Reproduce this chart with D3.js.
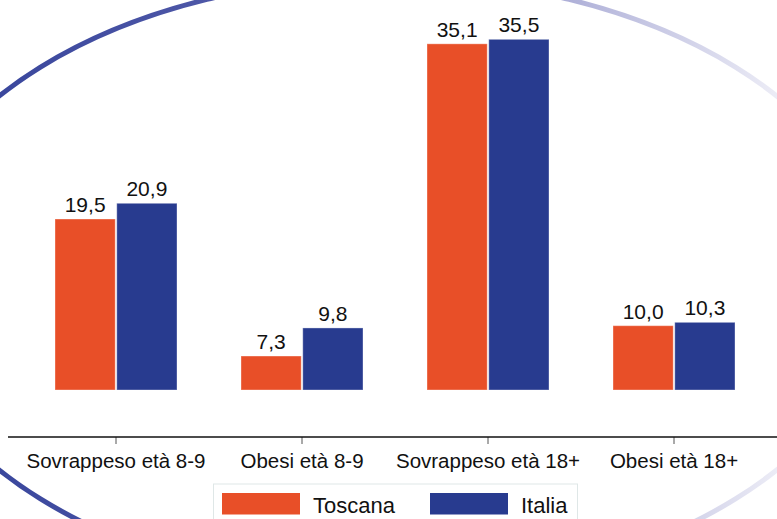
<!DOCTYPE html>
<html>
<head>
<meta charset="utf-8">
<script src="https://cdn.jsdelivr.net/npm/d3@7"></script>
<style>
  html, body { margin: 0; padding: 0; background: #fff; }
  svg { display: block; font-family: "Liberation Sans", Arial, sans-serif; }
</style>
</head>
<body>
<svg id="chart" width="777" height="519"></svg>
<script>
const categories = ["Sovrappeso età 8-9", "Obesi età 8-9", "Sovrappeso età 18+", "Obesi età 18+"];
const seriesNames = ["Toscana", "Italia"];
const toscana = [19.5, 7.3, 35.1, 10.0];
const italia = [20.9, 9.8, 35.5, 10.3];
const colors = ["#E84F28", "#283B8F"];

const W = 777, H = 519;
const svg = d3.select("#chart");
const defs = svg.append("defs");

// decorative ellipse with horizontal fade
const grad = defs.append("linearGradient").attr("id", "arcGrad")
  .attr("gradientUnits", "userSpaceOnUse").attr("x1", 0).attr("x2", W).attr("y1", 0).attr("y2", 0);
grad.append("stop").attr("offset", "0%").attr("stop-color", "#3a479d");
grad.append("stop").attr("offset", "30%").attr("stop-color", "#5059a8");
grad.append("stop").attr("offset", "65%").attr("stop-color", "#9c9ecf");
grad.append("stop").attr("offset", "100%").attr("stop-color", "#ececf6");

svg.append("ellipse")
  .attr("cx", 388).attr("cy", 283).attr("rx", 492).attr("ry", 305)
  .attr("fill", "none").attr("stroke", "url(#arcGrad)").attr("stroke-width", 5);

const values = categories.map((c, i) => ({ cat: c, vals: [toscana[i], italia[i]] }));

const x0 = d3.scaleBand().domain(categories).range([23, 767]);
const x1 = d3.scaleBand().domain(seriesNames).range([-61, 61]).paddingInner(0.025);
const y = d3.scaleLinear().domain([0, 40]).range([438, 438 - 40 * 11.23]);
const barBase = 390;

const groups = svg.append("g").selectAll("g").data(values).join("g")
  .attr("transform", d => `translate(${x0(d.cat) + x0.bandwidth() / 2},0)`);

groups.selectAll("rect").data(d => d.vals.map((v, j) => ({ s: seriesNames[j], v, j })))
  .join("rect")
  .attr("x", d => x1(d.s))
  .attr("width", x1.bandwidth())
  .attr("y", d => y(d.v))
  .attr("height", d => barBase - y(d.v))
  .attr("fill", d => colors[d.j])
  .attr("stroke", "rgba(255,255,255,0.35)")
  .attr("stroke-width", 1);

groups.selectAll("text").data(d => d.vals.map((v, j) => ({ s: seriesNames[j], v, j })))
  .join("text")
  .attr("x", d => x1(d.s) + x1.bandwidth() / 2)
  .attr("y", d => y(d.v) - 7)
  .attr("text-anchor", "middle")
  .attr("font-size", 21)
  .attr("fill", "#111")
  .text(d => d3.format(".1f")(d.v).replace(".", ","));

// x axis
const axisG = svg.append("g").attr("transform", "translate(0,437)");
axisG.call(d3.axisBottom(x0).tickSize(7).tickPadding(9.5).tickSizeOuter(0));
axisG.select(".domain").remove();
axisG.append("line").attr("x1", 8).attr("x2", W).attr("y1", 0).attr("y2", 0)
  .attr("stroke", "#111").attr("stroke-width", 1.5);
axisG.selectAll(".tick line").attr("stroke", "#555").attr("stroke-width", 1);
axisG.selectAll(".tick text").attr("font-size", 20.5).attr("fill", "#111")
  .attr("font-family", "'Liberation Sans', Arial, sans-serif").attr("dy", "0.71em");

// legend
const leg = svg.append("g");
leg.append("rect").attr("x", 213.5).attr("y", 484).attr("width", 364).attr("height", 45)
  .attr("fill", "#fff").attr("stroke", "#dfe7e7").attr("stroke-width", 1);
const legX = [222, 430];
seriesNames.forEach((s, i) => {
  leg.append("rect").attr("x", legX[i]).attr("y", 493).attr("width", 78).attr("height", 21.5)
    .attr("fill", colors[i]);
  leg.append("text").attr("x", legX[i] + 91).attr("y", 513).attr("font-size", 22)
    .attr("fill", "#111").text(s);
});
</script>
</body>
</html>
